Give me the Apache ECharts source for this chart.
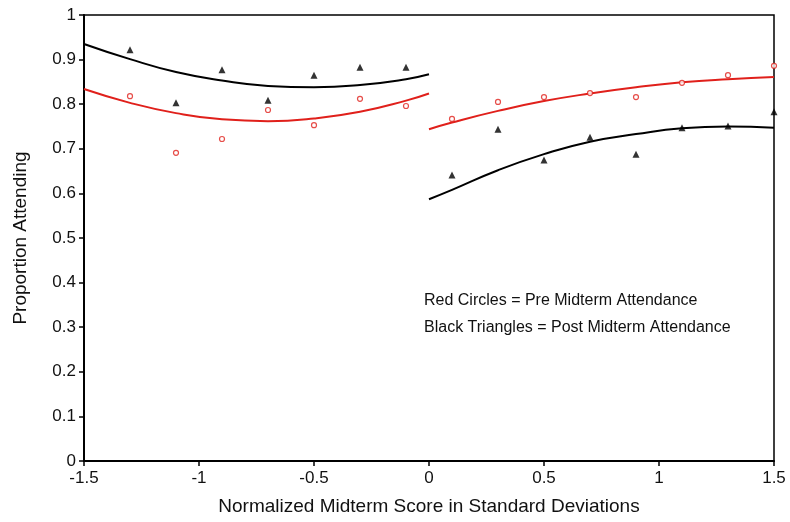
<!DOCTYPE html>
<html>
<head>
<meta charset="utf-8">
<script src="https://cdn.jsdelivr.net/npm/echarts@6/dist/echarts.min.js"></script>
<style>
  html, body { margin: 0; padding: 0; background: #fff; }
  #chart { width: 790px; height: 522px; }
</style>
</head>
<body>
<div id="chart"></div>
<script>
// observed points (x = normalized score)
var pointX = [-1.3, -1.1, -0.9, -0.7, -0.5, -0.3, -0.1, 0.1, 0.3, 0.5, 0.7, 0.9, 1.1, 1.3, 1.5];
var preValues = [0.818, 0.691, 0.722, 0.787, 0.753, 0.812, 0.796, 0.767, 0.805, 0.816, 0.825, 0.816, 0.848, 0.865, 0.886];
var postValues = [0.922, 0.803, 0.877, 0.809, 0.865, 0.883, 0.883, 0.641, 0.744, 0.675, 0.726, 0.688, 0.747, 0.751, 0.783];

// fitted curves
var fitLeftX = [-1.5, -1.3, -1.1, -0.9, -0.7, -0.5, -0.3, -0.1, 0];
var preFitLeft = [0.834, 0.803, 0.780, 0.766, 0.762, 0.768, 0.783, 0.808, 0.824];
var postFitLeft = [0.935, 0.901, 0.872, 0.853, 0.841, 0.838, 0.843, 0.856, 0.867];
var fitRightX = [0, 0.1, 0.3, 0.5, 0.7, 0.9, 1.1, 1.3, 1.5];
var preFitRight = [0.744, 0.759, 0.785, 0.807, 0.824, 0.838, 0.849, 0.856, 0.861];
var postFitRight = [0.587, 0.608, 0.652, 0.688, 0.716, 0.733, 0.746, 0.750, 0.747];

function pairs(xs, ys) {
  return xs.map(function (x, i) { return [x, ys[i]]; });
}

var font = 'Arial, "Liberation Sans", sans-serif';
var red = '#e0201b';

var myChart = echarts.init(document.getElementById('chart'));

function fitLine(name, xs, ys, color) {
  return {
    name: name,
    type: 'line',
    data: pairs(xs, ys),
    smooth: true,
    symbol: 'none',
    lineStyle: { color: color, width: 2 },
    z: 2
  };
}

var option = {
  animation: false,
  backgroundColor: '#fff',
  grid: {
    left: 84, right: 16, top: 15, bottom: 61,
    show: true,
    borderColor: '#000',
    borderWidth: 1.5
  },
  xAxis: {
    type: 'value',
    min: -1.5, max: 1.5, interval: 0.5,
    name: 'Normalized Midterm Score in Standard Deviations',
    nameLocation: 'middle',
    nameGap: 36,
    nameTextStyle: { fontFamily: font, fontSize: 19, color: '#111' },
    axisLine: { onZero: false, lineStyle: { color: '#000', width: 2 } },
    axisTick: { show: true, length: 5, lineStyle: { color: '#000', width: 1.5 } },
    axisLabel: { fontFamily: font, fontSize: 17, color: '#111', margin: 9 },
    splitLine: { show: false }
  },
  yAxis: {
    type: 'value',
    min: 0, max: 1, interval: 0.1,
    name: 'Proportion Attending',
    nameLocation: 'middle',
    nameGap: 54,
    nameTextStyle: { fontFamily: font, fontSize: 19, color: '#111' },
    axisLine: { show: true, onZero: false, lineStyle: { color: '#000', width: 2 } },
    axisTick: { show: true, length: 5, lineStyle: { color: '#000', width: 1.5 } },
    axisLabel: { fontFamily: font, fontSize: 17, color: '#111', margin: 8 },
    splitLine: { show: false }
  },
  graphic: [
    {
      type: 'text', left: 424, top: 293,
      style: { text: 'Red Circles = Pre Midterm Attendance', font: '16px ' + font, fill: '#111' }
    },
    {
      type: 'text', left: 424, top: 320,
      style: { text: 'Black Triangles = Post Midterm Attendance', font: '16px ' + font, fill: '#111' }
    }
  ],
  series: [
    fitLine('pre fit left', fitLeftX, preFitLeft, red),
    fitLine('post fit left', fitLeftX, postFitLeft, '#000'),
    fitLine('pre fit right', fitRightX, preFitRight, red),
    fitLine('post fit right', fitRightX, postFitRight, '#000'),
    {
      name: 'Pre Midterm',
      type: 'scatter',
      data: pairs(pointX, preValues),
      symbol: 'circle',
      symbolSize: 5,
      itemStyle: { color: '#fff', borderColor: red, borderWidth: 1.2 },
      z: 3
    },
    {
      name: 'Post Midterm',
      type: 'scatter',
      data: pairs(pointX, postValues),
      symbol: 'triangle',
      symbolSize: 7,
      itemStyle: { color: '#000' },
      z: 3
    }
  ]
};

myChart.setOption(option);
window.addEventListener('resize', myChart.resize);
</script>
</body>
</html>
